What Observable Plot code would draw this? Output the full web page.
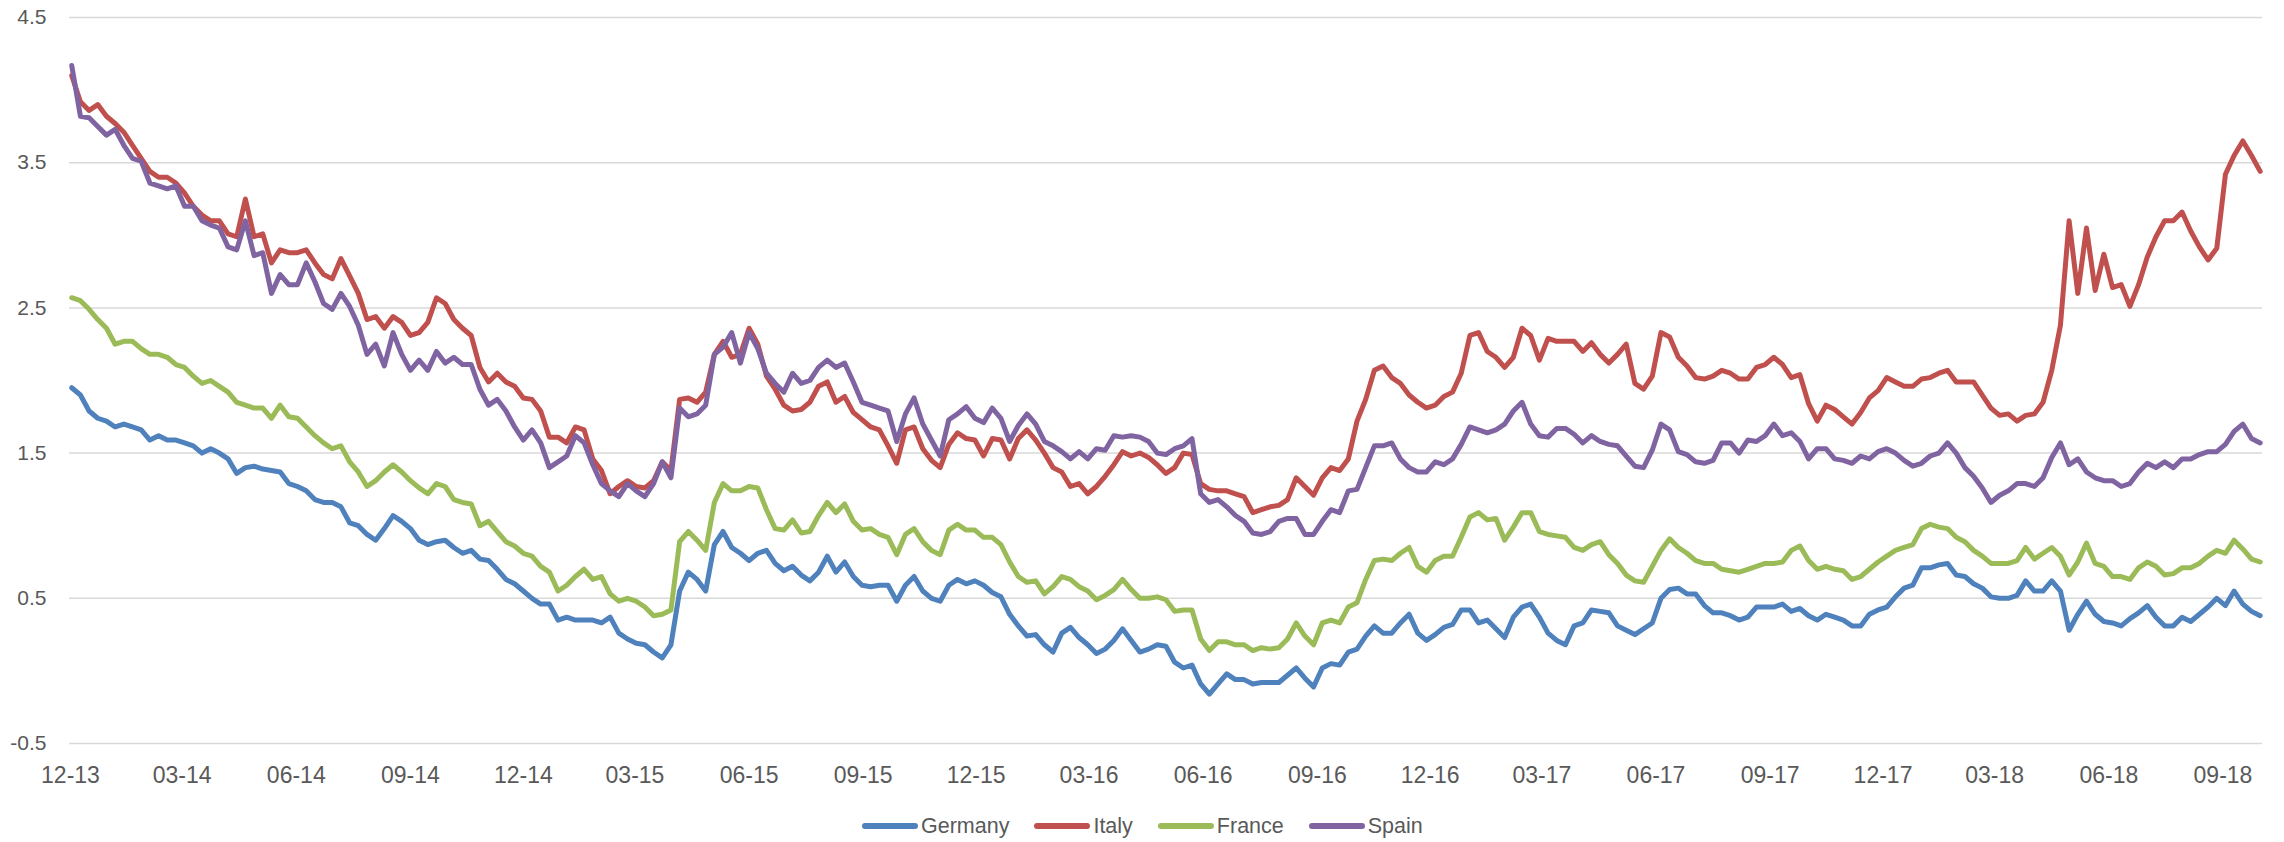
<!DOCTYPE html>
<html>
<head>
<meta charset="utf-8">
<script src="https://cdn.jsdelivr.net/npm/d3@7"></script>
<script src="https://cdn.jsdelivr.net/npm/@observablehq/plot@0.6"></script>
<style>
  html, body { margin: 0; padding: 0; background: #fff; width: 2284px; height: 842px; overflow: hidden; }
  #chart svg { display: block; }
  #legend { height: 30px; padding-top: 11px; display: flex; align-items: center; margin-left: 862px;
            font-family: "Liberation Sans", Arial, sans-serif;
            font-size: 21.5px; color: #595959; }
  .item { display: flex; align-items: center; margin-right: 25px; }
  .sw { width: 56px; height: 6px; border-radius: 3px; margin-right: 3px; }
</style>
</head>
<body>
<div id="chart"></div>
<div id="legend"></div>
<script>
// ---- data (weekly readings, first point 2013-12-02, one reading every 7 days) ----
const countries = ["Germany", "Italy", "France", "Spain"];
const colors = ["#4F81BD", "#C0504D", "#9BBB59", "#8064A2"];
const xTickLabels = ["12-13","03-14","06-14","09-14","12-14","03-15","06-15","09-15","12-15","03-16",
                     "06-16","09-16","12-16","03-17","06-17","09-17","12-17","03-18","06-18","09-18"];
const yTicks = [-0.5, 0.5, 1.5, 2.5, 3.5, 4.5];
const firstDate = "2013-12-02";

const germany = [
  1.95,1.90,1.79,1.74,1.72,1.68,1.70,1.68,1.66,1.59,1.62,1.59,1.59,1.57,1.55,1.50,1.53,1.50,1.46,1.36,1.40,1.41,1.39,1.38,1.37,1.29,1.27,1.24,1.18,1.16,1.16,1.13,1.02,1.00,0.94,0.90,0.98,1.07,
  1.03,0.98,0.90,0.87,0.89,0.90,0.85,0.81,0.83,0.77,0.76,0.70,0.63,0.60,0.55,0.50,0.46,0.46,0.35,0.37,0.35,0.35,0.35,0.33,0.37,0.26,0.22,0.19,0.18,0.13,0.09,0.18,0.55,0.68,0.63,0.55,0.87,0.96,0.85,0.81,0.76,0.81,0.83,0.74,
  0.69,0.72,0.66,0.62,0.68,0.79,0.68,0.75,0.65,0.59,0.58,0.59,0.59,0.48,0.59,0.65,0.55,0.50,0.48,0.59,0.63,0.60,0.62,0.59,0.54,0.51,0.39,0.31,0.24,0.25,0.18,0.13,0.26,0.30,0.23,0.18,0.12,0.15,0.21,0.29,0.21,0.13,0.15,
  0.18,0.17,0.06,0.02,0.04,-0.09,-0.16,-0.09,-0.02,-0.06,-0.06,-0.09,-0.08,-0.08,-0.08,-0.03,0.02,-0.05,-0.11,0.02,0.05,0.04,0.13,0.15,0.24,0.31,0.26,0.26,0.33,0.39,0.26,0.21,0.25,0.30,0.32,0.42,0.42,0.33,0.35,0.29,0.23,0.37,0.44,
  0.46,0.37,0.26,0.21,0.18,0.31,0.33,0.42,0.41,0.40,0.31,0.28,0.25,0.29,0.33,0.50,0.56,0.57,0.53,0.53,0.45,0.40,0.40,0.38,0.35,0.37,0.44,0.44,0.44,0.46,0.41,0.43,0.38,0.35,0.39,0.37,0.35,0.31,0.31,0.39,0.42,0.44,0.51,0.57,0.59,
  0.71,0.71,0.73,0.74,0.66,0.65,0.60,0.57,0.51,0.50,0.50,0.52,0.62,0.55,0.55,0.62,0.55,0.28,0.39,0.48,0.39,0.34,0.33,0.31,0.36,0.40,0.45,0.37,0.31,0.31,0.37,0.34,0.39,0.44,0.50,0.45,0.55,0.46,0.41,0.38
];
const italy = [
  4.10,3.92,3.86,3.90,3.82,3.77,3.71,3.62,3.53,3.44,3.40,3.40,3.36,3.29,3.20,3.14,3.10,3.10,3.01,2.99,3.25,2.99,3.01,2.81,2.90,2.88,2.88,2.90,2.81,2.73,2.70,2.84,2.72,2.60,2.42,2.44,2.36,2.44,
  2.40,2.31,2.33,2.40,2.57,2.53,2.42,2.36,2.31,2.09,1.99,2.05,1.99,1.96,1.88,1.87,1.79,1.61,1.61,1.57,1.68,1.66,1.46,1.38,1.22,1.27,1.31,1.27,1.26,1.31,1.44,1.38,1.87,1.88,1.85,1.92,2.18,2.27,2.16,2.18,2.36,2.25,2.03,1.94,
  1.83,1.79,1.80,1.85,1.96,1.99,1.85,1.89,1.78,1.73,1.68,1.66,1.55,1.43,1.66,1.68,1.53,1.45,1.40,1.56,1.64,1.60,1.59,1.48,1.60,1.59,1.46,1.60,1.66,1.59,1.50,1.40,1.37,1.27,1.29,1.22,1.27,1.34,1.42,1.51,1.48,1.50,1.47,
  1.42,1.36,1.40,1.50,1.49,1.29,1.25,1.24,1.24,1.22,1.20,1.09,1.11,1.13,1.14,1.18,1.33,1.27,1.21,1.33,1.40,1.38,1.46,1.72,1.87,2.07,2.10,2.02,1.98,1.90,1.85,1.81,1.83,1.89,1.92,2.05,2.31,2.33,2.20,2.16,2.09,2.16,2.36,
  2.31,2.14,2.29,2.27,2.27,2.27,2.20,2.26,2.18,2.12,2.18,2.25,1.98,1.94,2.03,2.33,2.30,2.16,2.10,2.02,2.01,2.03,2.07,2.05,2.01,2.01,2.09,2.11,2.16,2.11,2.02,2.04,1.84,1.72,1.83,1.80,1.75,1.70,1.78,1.88,1.93,2.02,1.99,1.96,1.96,
  2.01,2.02,2.05,2.07,1.99,1.99,1.99,1.90,1.81,1.76,1.77,1.72,1.76,1.77,1.85,2.07,2.38,3.10,2.60,3.05,2.62,2.87,2.64,2.66,2.51,2.66,2.85,2.99,3.10,3.10,3.16,3.03,2.92,2.83,2.91,3.42,3.55,3.65,3.55,3.44
];
const france = [
  2.57,2.55,2.49,2.42,2.36,2.25,2.27,2.27,2.22,2.18,2.18,2.16,2.11,2.09,2.03,1.98,2.00,1.96,1.92,1.85,1.83,1.81,1.81,1.74,1.83,1.75,1.74,1.68,1.62,1.57,1.53,1.55,1.44,1.37,1.27,1.31,1.37,1.42,
  1.37,1.31,1.26,1.22,1.29,1.27,1.18,1.16,1.15,1.00,1.03,0.96,0.89,0.86,0.81,0.79,0.72,0.68,0.55,0.59,0.65,0.70,0.63,0.65,0.53,0.48,0.50,0.48,0.44,0.38,0.39,0.42,0.89,0.96,0.90,0.83,1.16,1.29,1.24,1.24,1.27,1.26,1.11,0.98,
  0.97,1.04,0.95,0.96,1.07,1.16,1.09,1.15,1.03,0.97,0.98,0.94,0.92,0.80,0.94,0.98,0.89,0.83,0.80,0.97,1.01,0.97,0.97,0.92,0.92,0.87,0.75,0.65,0.61,0.62,0.53,0.58,0.65,0.63,0.58,0.55,0.49,0.52,0.56,0.63,0.56,0.50,0.50,
  0.51,0.49,0.41,0.42,0.42,0.22,0.14,0.20,0.20,0.18,0.18,0.14,0.16,0.15,0.16,0.22,0.33,0.24,0.18,0.33,0.35,0.33,0.44,0.47,0.63,0.76,0.77,0.76,0.81,0.85,0.72,0.68,0.76,0.79,0.79,0.92,1.06,1.09,1.04,1.05,0.90,0.99,1.09,
  1.09,0.96,0.94,0.93,0.92,0.85,0.83,0.87,0.89,0.80,0.74,0.66,0.62,0.61,0.72,0.83,0.91,0.85,0.81,0.76,0.74,0.74,0.70,0.69,0.68,0.70,0.72,0.74,0.74,0.75,0.83,0.86,0.76,0.70,0.72,0.70,0.69,0.63,0.65,0.70,0.75,0.79,0.83,0.85,0.87,
  0.98,1.01,0.99,0.98,0.92,0.89,0.83,0.79,0.74,0.74,0.74,0.76,0.85,0.77,0.81,0.85,0.79,0.66,0.75,0.88,0.74,0.72,0.65,0.65,0.63,0.71,0.75,0.72,0.66,0.67,0.71,0.71,0.74,0.79,0.83,0.81,0.90,0.84,0.77,0.75
];
const spain = [
  4.17,3.82,3.81,3.75,3.69,3.73,3.62,3.53,3.51,3.36,3.34,3.32,3.34,3.20,3.20,3.10,3.07,3.05,2.92,2.90,3.10,2.86,2.88,2.60,2.73,2.66,2.66,2.81,2.68,2.53,2.49,2.60,2.51,2.38,2.18,2.25,2.10,2.33,
  2.18,2.07,2.14,2.07,2.20,2.12,2.16,2.11,2.11,1.94,1.83,1.87,1.79,1.68,1.59,1.66,1.57,1.40,1.44,1.48,1.62,1.57,1.42,1.29,1.24,1.20,1.29,1.24,1.20,1.29,1.44,1.33,1.81,1.75,1.77,1.83,2.18,2.23,2.33,2.12,2.33,2.22,2.05,1.98,
  1.92,2.05,1.98,2.00,2.09,2.14,2.09,2.12,1.99,1.85,1.83,1.81,1.79,1.58,1.77,1.88,1.70,1.59,1.48,1.73,1.77,1.82,1.74,1.71,1.81,1.74,1.58,1.69,1.77,1.70,1.58,1.55,1.51,1.46,1.51,1.46,1.53,1.52,1.62,1.61,1.62,1.61,1.58,
  1.50,1.49,1.53,1.55,1.60,1.22,1.16,1.18,1.13,1.07,1.03,0.95,0.94,0.96,1.03,1.05,1.05,0.94,0.94,1.03,1.11,1.09,1.24,1.25,1.40,1.55,1.55,1.57,1.46,1.40,1.37,1.37,1.44,1.42,1.46,1.56,1.68,1.66,1.64,1.66,1.70,1.79,1.85,
  1.70,1.62,1.61,1.67,1.67,1.63,1.57,1.62,1.58,1.56,1.55,1.48,1.41,1.40,1.52,1.70,1.66,1.51,1.49,1.44,1.43,1.45,1.57,1.57,1.50,1.59,1.58,1.62,1.70,1.62,1.64,1.58,1.46,1.53,1.53,1.46,1.45,1.43,1.48,1.46,1.51,1.53,1.50,1.45,1.41,
  1.43,1.48,1.50,1.57,1.50,1.40,1.34,1.26,1.16,1.21,1.24,1.29,1.29,1.27,1.33,1.47,1.57,1.42,1.46,1.37,1.33,1.31,1.31,1.27,1.29,1.37,1.43,1.40,1.44,1.40,1.46,1.46,1.49,1.51,1.51,1.56,1.65,1.70,1.60,1.57
];

// ---- build table ----
const series = [germany, italy, france, spain];
const start = d3.utcParse("%Y-%m-%d")(firstDate);
const rows = [];
series.forEach((vals, k) => {
  vals.forEach((v, i) => rows.push({country: countries[k], date: d3.utcDay.offset(start, 7 * i), value: v}));
});
const parseTick = d3.utcParse("%m-%y");
const tickDates = xTickLabels.map(parseTick);
const fmtTick = d3.utcFormat("%m-%y");

const chart = Plot.plot({
  width: 2284,
  height: 800,
  marginLeft: 69,
  marginRight: 22,
  marginTop: 17,
  marginBottom: 57,
  style: {fontFamily: "'Liberation Sans', Arial, sans-serif", background: "#fff"},
  x: {type: "utc", domain: [new Date(Date.UTC(2013, 10, 30, 5)), new Date(Date.UTC(2018, 9, 2, 21))]},
  y: {domain: [-0.5, 4.5]},
  color: {domain: countries, range: colors},
  marks: [
    Plot.ruleY(yTicks, {stroke: "#d9d9d9", strokeWidth: 1.5}),
    Plot.axisY(yTicks, {tickSize: 0, tickPadding: 23, tickFormat: d => d.toFixed(1), fontSize: 21, color: "#595959", label: null}),
    Plot.axisX(tickDates, {tickSize: 0, tickPadding: 23, tickFormat: fmtTick, fontSize: 23, color: "#595959", label: null}),
    Plot.line(rows, {x: "date", y: "value", z: "country", stroke: "country", strokeWidth: 5,
                     strokeLinejoin: "round", strokeLinecap: "round"})
  ]
});
document.getElementById("chart").appendChild(chart);

const legend = document.getElementById("legend");
countries.forEach((c, k) => {
  const item = document.createElement("div");
  item.className = "item";
  const sw = document.createElement("div");
  sw.className = "sw";
  sw.style.background = colors[k];
  const t = document.createElement("span");
  t.textContent = c;
  item.appendChild(sw);
  item.appendChild(t);
  legend.appendChild(item);
});
</script>
</body>
</html>
